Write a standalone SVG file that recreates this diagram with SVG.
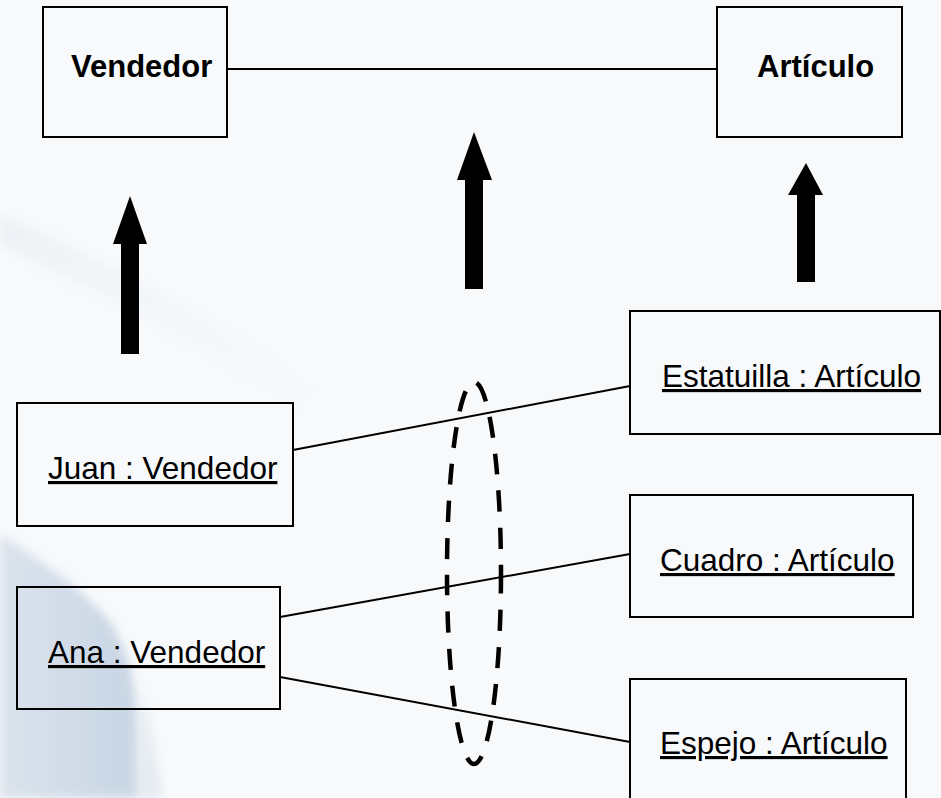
<svg xmlns="http://www.w3.org/2000/svg" width="941" height="798" viewBox="0 0 941 798">
  <defs>
    <linearGradient id="bgBlue" x1="0" y1="0" x2="1" y2="0">
      <stop offset="0" stop-color="#dbe3ec"/>
      <stop offset="0.55" stop-color="#d0dbe7"/>
      <stop offset="0.9" stop-color="#c9d6e4"/>
      <stop offset="1" stop-color="#dde5ee"/>
    </linearGradient>
    <linearGradient id="streak" x1="0" y1="0" x2="1" y2="1">
      <stop offset="0" stop-color="#eaeff4" stop-opacity="0.8"/>
      <stop offset="1" stop-color="#f3f6f9" stop-opacity="0"/>
    </linearGradient>
    <filter id="soft" x="-20%" y="-20%" width="140%" height="140%">
      <feGaussianBlur stdDeviation="5"/>
    </filter>
  </defs>
  <style>
    .box { fill: none; stroke: #000; stroke-width: 2; }
    .conn { stroke: #000; stroke-width: 2; fill: none; }
    .arrow { fill: #000; }
    .cls { font-family: "Liberation Sans", Arial, sans-serif; font-weight: bold; font-size: 31px; fill: #000; }
    .obj { font-family: "Liberation Sans", Arial, sans-serif; font-size: 31.5px; fill: #000; text-decoration: underline; }
    .group { fill: none; stroke: #000; stroke-width: 4.5; stroke-dasharray: 21 16; }
  </style>

  <!-- background -->
  <rect x="0" y="0" width="941" height="798" fill="#f7f9fb"/>
  <path d="M0,215 C80,250 200,310 330,395 L300,410 C200,345 90,285 0,245 Z" fill="url(#streak)" filter="url(#soft)"/>
  <path d="M0,535 C40,560 85,590 112,625 C132,660 142,700 142,798 L0,798 Z" fill="url(#bgBlue)" filter="url(#soft)"/>
  <path d="M142,690 C152,740 160,770 162,798 L140,798 Z" fill="#e5ebf1" filter="url(#soft)"/>

  <!-- connectors -->
  <g id="connectors">
    <line class="conn" x1="227" y1="69" x2="717" y2="69"/>
    <line class="conn" x1="293" y1="450" x2="630" y2="386"/>
    <line class="conn" x1="280" y1="617" x2="630" y2="554"/>
    <line class="conn" x1="280" y1="677" x2="630" y2="742"/>
    <polygon class="arrow" points="130,196 147,244 139,244 139,354 121,354 121,244 113,244"/>
    <polygon class="arrow" points="474,132 492,180 483,180 483,289 465,289 465,180 457,180"/>
    <polygon class="arrow" points="806,163 823,195 815,195 815,282 797,282 797,195 788,195"/>
  </g>

  <g id="vendedor">
    <rect class="box" x="43" y="7" width="184" height="130"/>
    <text class="cls" x="71" y="77">Vendedor</text>
  </g>
  <g id="articulo">
    <rect class="box" x="717" y="7" width="185" height="130"/>
    <text class="cls" x="757" y="77">Artículo</text>
  </g>
  <g id="juan">
    <rect class="box" x="17" y="403" width="276" height="123"/>
    <text class="obj" x="48" y="479">Juan : Vendedor</text>
  </g>
  <g id="ana">
    <rect class="box" x="17" y="587" width="263" height="122"/>
    <text class="obj" x="48" y="663">Ana : Vendedor</text>
  </g>
  <g id="estatuilla">
    <rect class="box" x="630" y="311" width="310" height="123"/>
    <text class="obj" x="662" y="387">Estatuilla : Artículo</text>
  </g>
  <g id="cuadro">
    <rect class="box" x="630" y="495" width="283" height="122"/>
    <text class="obj" x="660" y="571">Cuadro : Artículo</text>
  </g>
  <g id="espejo">
    <rect class="box" x="630" y="679" width="276" height="130"/>
    <text class="obj" x="660" y="754">Espejo : Artículo</text>
  </g>
  <g id="grupo">
    <ellipse class="group" cx="474" cy="573" rx="27" ry="191"/>
  </g>
</svg>
